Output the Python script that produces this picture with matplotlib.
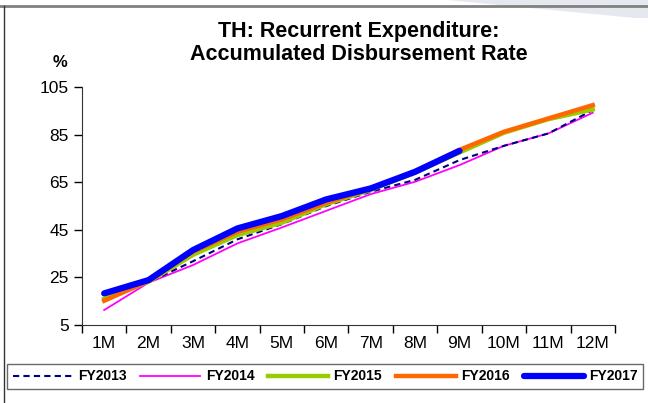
import numpy as np
import matplotlib.pyplot as plt
from matplotlib.lines import Line2D
from matplotlib.patches import Polygon

plt.rcParams['font.family'] = ['Liberation Sans', 'DejaVu Sans']

# Months and accumulated disbursement rate (%) by fiscal year
months = ["1M", "2M", "3M", "4M", "5M", "6M", "7M", "8M", "9M", "10M", "11M", "12M"]
fy2013 = [15.5, 23.0, 31.8, 41.0, 47.4, 55.0, 61.0, 66.0, 74.3, 80.3, 85.5, 95.3]
fy2014 = [11.3, 22.8, 30.2, 39.3, 46.0, 53.0, 60.0, 65.2, 72.2, 80.3, 85.5, 94.2]
fy2015 = [16.0, 23.2, 34.5, 42.8, 48.0, 55.8, 61.8, 69.0, 77.5, 85.8, 91.5, 95.6]
fy2016 = [15.2, 23.5, 35.8, 44.2, 49.4, 56.4, 62.2, 69.4, 78.6, 86.2, 91.8, 97.4]
fy2017 = [18.3, 23.9, 36.5, 45.6, 50.8, 57.8, 62.4, 69.4, 78.2]

fig = plt.figure(figsize=(6.48, 4.03), dpi=100)
ax = fig.add_axes([0.1265, 0.1935, 0.8225, 0.5905])

x = np.arange(len(months))
ax.plot(x, fy2013, color="#000080", lw=1.5, ls=(0, (3, 2)), label="FY2013", zorder=3)
ax.plot(x, fy2014, color="#FF00FF", lw=1.3, label="FY2014", zorder=2)
ax.plot(x, fy2015, color="#99CC00", lw=3.2, label="FY2015", zorder=4)
ax.plot(x, fy2016, color="#FF6600", lw=3.2, label="FY2016", zorder=5)
ax.plot(x[:len(fy2017)], fy2017, color="#0000FF", lw=4.5, label="FY2017",
        solid_capstyle="round", zorder=6)

ax.set_xlim(-0.5, 11.5)
ax.set_ylim(5, 105)
ax.set_yticks(np.arange(5, 106, 20))
ax.set_xticks(np.arange(-0.5, 12, 1))
ax.set_xticklabels([])
ax.set_xticks(x, minor=True)
ax.set_xticklabels(months, minor=True)
ax.tick_params(axis="x", which="major", length=6, direction="out", width=1)
ax.tick_params(axis="x", which="minor", length=0, pad=8, labelsize=12.5)
ax.tick_params(axis="y", length=6, direction="out", width=1, labelsize=12.5)
for s in ["top", "right"]:
    ax.spines[s].set_visible(False)
for s in ["left", "bottom"]:
    ax.spines[s].set_color("#333333")

fig.text(0.553, 0.921, "TH: Recurrent Expenditure:", ha="center", va="center",
         fontsize=15.5, fontweight="bold")
fig.text(0.553, 0.866, "Accumulated Disbursement Rate", ha="center", va="center",
         fontsize=15.5, fontweight="bold")
fig.text(0.093, 0.845, "%", ha="center", va="center", fontsize=12, fontweight="bold")

leg = fig.legend(loc="upper left", bbox_to_anchor=(0.011, 0.097), ncol=5,
                 frameon=True, fancybox=False,
                 prop={"weight": "bold", "size": 10}, handlelength=4.3,
                 handletextpad=0.4, borderpad=0.4, columnspacing=1.0,
                 borderaxespad=0)
leg.get_frame().set_edgecolor("#444444")
leg.get_frame().set_linewidth(1.0)

# outer frame: gray rule on top, dark rule on the left
fig.add_artist(Polygon([[0.69, 1.0], [1.0, 1.0], [1.0, 0.955], [0.98, 0.955]],
                       closed=True, transform=fig.transFigure,
                       facecolor="#E6E8F0", edgecolor="none"))
fig.add_artist(Line2D([0.0, 1.0], [0.984, 0.984], transform=fig.transFigure,
                      color="#808080", lw=2))
fig.add_artist(Line2D([0.006, 0.006], [0.0, 0.984], transform=fig.transFigure,
                      color="#333333", lw=1))

fig.savefig("out.png", dpi=100)
